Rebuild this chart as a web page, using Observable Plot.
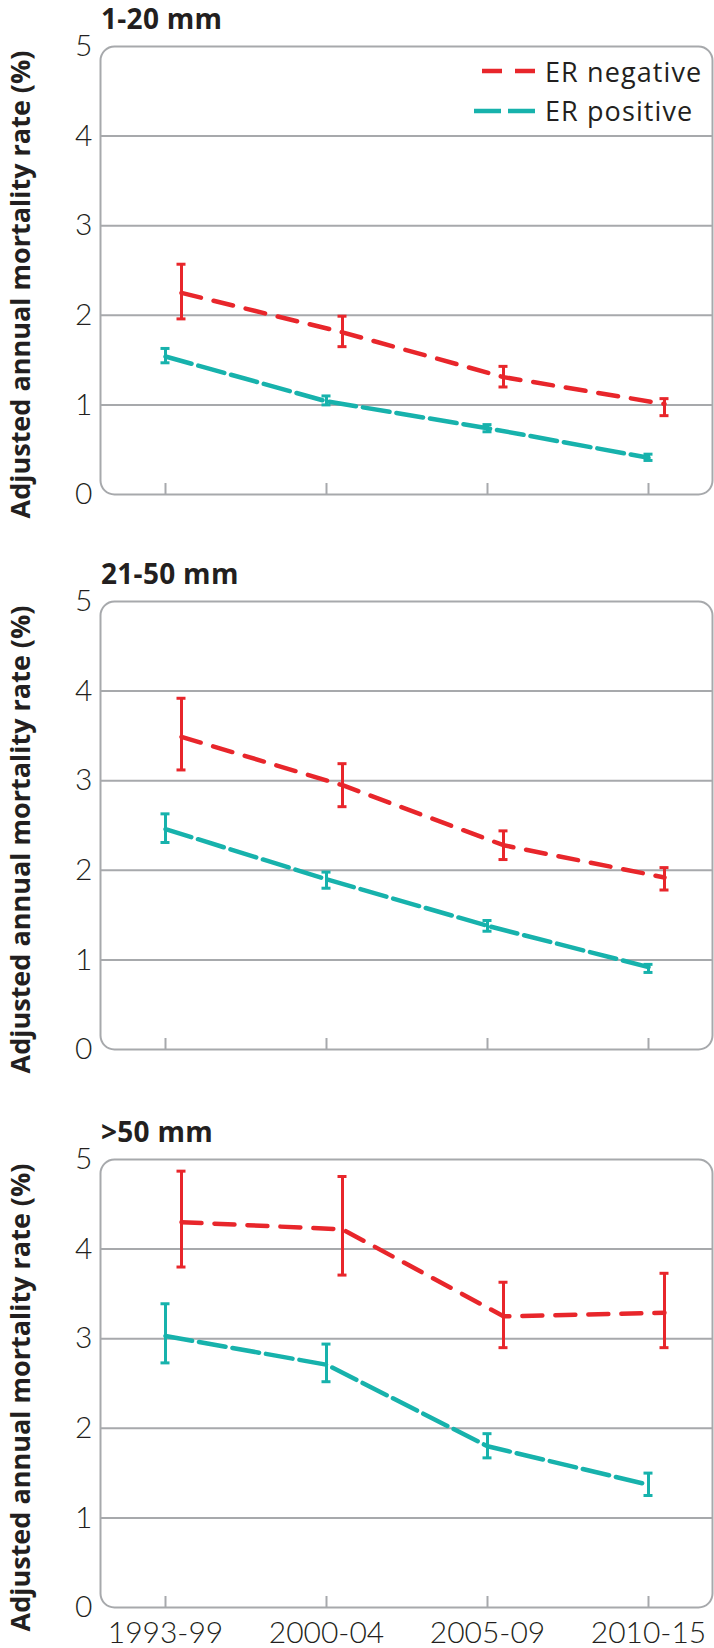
<!DOCTYPE html>
<html>
<head>
<meta charset="utf-8">
<script src="https://cdn.jsdelivr.net/npm/d3@7"></script>
<script src="https://cdn.jsdelivr.net/npm/@observablehq/plot@0.6"></script>
<style>
  body { margin: 0; background: #fff; }
  #chart { position: relative; width: 714px; height: 1648px; overflow: hidden; background: #fff; }
  .panel { position: absolute; left: 0; width: 714px; }
  .title { position: absolute; left: 101px; font-family: "Open Sans", sans-serif; font-weight: 700;
           font-size: 28px; line-height: 28px; color: #231f20; white-space: nowrap; letter-spacing: 0.3px; }
  #legend { position: absolute; left: 0; top: 0; }
</style>
</head>
<body>
<div id="chart"></div>
<script>
// ---------- data ----------
const periods = ["1993-99", "2000-04", "2005-09", "2010-15"];
const panelTitles = ["1-20 mm", "21-50 mm", ">50 mm"];
const seriesNames = ["ER negative", "ER positive"];
const yLabel = "Adjusted annual mortality rate (%)";
const yTicks = [0, 1, 2, 3, 4, 5];

// ER negative: estimate, lower CI, upper CI (per panel)
const negRate = [[2.25, 1.81, 1.31, 1.01], [3.49, 2.95, 2.28, 1.92], [4.30, 4.22, 3.25, 3.29]];
const negLow  = [[1.96, 1.65, 1.20, 0.88], [3.12, 2.71, 2.12, 1.78], [3.80, 3.71, 2.90, 2.90]];
const negHigh = [[2.57, 1.99, 1.43, 1.07], [3.92, 3.19, 2.44, 2.03], [4.87, 4.81, 3.63, 3.73]];

// ER positive
const posRate = [[1.54, 1.04, 0.74, 0.41], [2.46, 1.90, 1.38, 0.92], [3.03, 2.71, 1.80, 1.37]];
const posLow  = [[1.47, 1.00, 0.70, 0.38], [2.31, 1.80, 1.32, 0.86], [2.73, 2.52, 1.67, 1.25]];
const posHigh = [[1.63, 1.10, 0.78, 0.45], [2.63, 1.98, 1.44, 0.95], [3.39, 2.94, 1.94, 1.50]];

// ---------- style ----------
const RED = "#e8262b";
const CYAN = "#17b2ac";
const GRAY = "#a7a9ac";
const INK = "#231f20";
const RED_DASH = "20,13";
const CYAN_DASH = "27,7";
const frameTops = [46, 601, 1159];
const innerH = 448;
const mTop = 14;

const chart = document.getElementById("chart");

function rowsFor(i, which) {
  const r = which === 0 ? negRate[i] : posRate[i];
  const lo = which === 0 ? negLow[i] : posLow[i];
  const hi = which === 0 ? negHigh[i] : posHigh[i];
  return periods.map((p, j) => ({period: p, series: seriesNames[which], rate: r[j], lo: lo[j], hi: hi[j]}));
}

panelTitles.forEach((title, i) => {
  const neg = rowsFor(i, 0);
  const pos = rowsFor(i, 1);
  const last = i === panelTitles.length - 1;
  const mBottom = last ? 41 : 44;
  const errMarks = (data, color, dx) => [
    Plot.ruleX(data, {x: "period", y1: "lo", y2: "hi", stroke: color, strokeWidth: 3, dx}),
    Plot.ruleY(data, {x1: "period", x2: "period", y: "lo", stroke: color, strokeWidth: 3, insetLeft: -4.5, insetRight: -4.5, dx}),
    Plot.ruleY(data, {x1: "period", x2: "period", y: "hi", stroke: color, strokeWidth: 3, insetLeft: -4.5, insetRight: -4.5, dx})
  ];
  const plot = Plot.plot({
    width: 714,
    height: mTop + innerH + mBottom,
    marginTop: mTop,
    marginBottom: mBottom,
    marginLeft: 100,
    marginRight: 2,
    x: {type: "point", domain: periods, padding: 0.39, axis: null},
    y: {domain: [0, 5], axis: null},
    style: {fontFamily: "Lato, sans-serif", color: INK, background: "transparent", overflow: "visible"},
    marks: [
      Plot.gridY([1, 2, 3, 4], {stroke: GRAY, strokeOpacity: 1, strokeWidth: 2}),
      Plot.frame({rx: 14, stroke: GRAY, strokeWidth: 2}),
      Plot.ruleX(periods, {x: d => d, insetTop: innerH - 11, stroke: GRAY, strokeWidth: 2}),
      Plot.axisY(yTicks, {tickSize: 0, tickPadding: 8, fontSize: 30, fontWeight: 300, label: null, fill: INK,
        tickFormat: d => String(d)}),
      last ? Plot.axisX({tickSize: 0, tickPadding: 14, fontSize: 30, fontWeight: 300, label: null, fill: INK}) : null,
      Plot.line(pos, {x: "period", y: "rate", stroke: CYAN, strokeWidth: 4.5, strokeDasharray: CYAN_DASH}),
      Plot.line(neg, {x: "period", y: "rate", stroke: RED, strokeWidth: 4.5, strokeDasharray: RED_DASH, dx: 16}),
      ...errMarks(pos, CYAN, 0),
      ...errMarks(neg, RED, 16),
      Plot.text([yLabel], {frameAnchor: "left", text: d => d, rotate: -90, lineAnchor: "top", textAnchor: "middle",
        dx: -90, dy: 14, fontSize: 27, fontWeight: 700, fontFamily: "Open Sans", fill: INK, letterSpacing: 1.3})
    ]
  });
  const wrap = document.createElement("div");
  wrap.className = "panel";
  wrap.style.top = (frameTops[i] - mTop) + "px";
  wrap.appendChild(plot);
  chart.appendChild(wrap);

  const t = document.createElement("div");
  t.className = "title";
  t.style.top = (frameTops[i] - 42) + "px";
  t.textContent = title;
  chart.appendChild(t);
});

// legend (inside top panel, top right)
const leg = d3.select(chart).append("svg").attr("id", "legend").attr("width", 714).attr("height", 140);
const legendItems = [
  {name: seriesNames[0], color: RED, dash: RED_DASH, x1: 482, y: 71, baseline: 82},
  {name: seriesNames[1], color: CYAN, dash: CYAN_DASH, x1: 474, y: 111, baseline: 121}
];
legendItems.forEach(d => {
  leg.append("line").attr("x1", d.x1).attr("x2", 535).attr("y1", d.y).attr("y2", d.y)
    .attr("stroke", d.color).attr("stroke-width", 4.5).attr("stroke-dasharray", d.dash);
  leg.append("text").attr("x", 545).attr("y", d.baseline).text(d.name)
    .attr("font-family", "Open Sans").attr("font-size", 27).attr("letter-spacing", 1.1).attr("fill", INK);
});
</script>
</body>
</html>
